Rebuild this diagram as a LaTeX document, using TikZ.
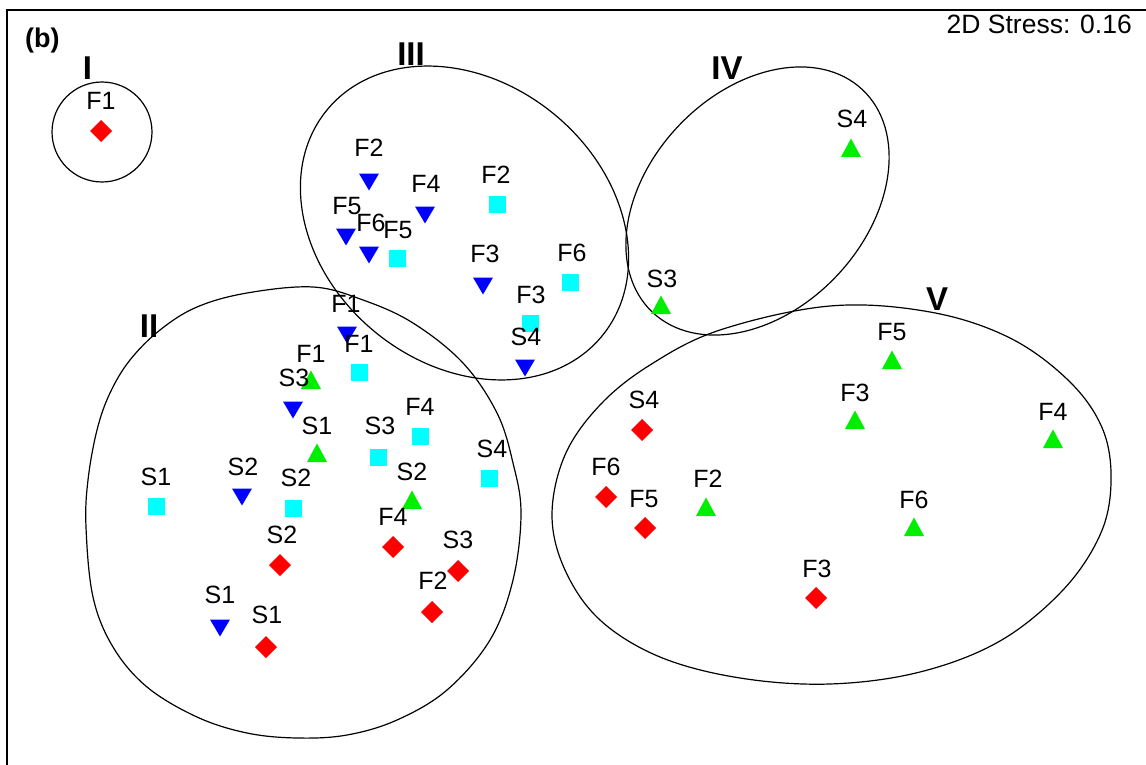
\documentclass[tikz,border=0pt]{standalone}
\usepackage{fontspec}
\setmainfont{Liberation Sans}
\definecolor{mred}{RGB}{255,0,0}
\definecolor{mblue}{RGB}{0,0,255}
\definecolor{mcyan}{RGB}{0,255,255}
\definecolor{mgreen}{RGB}{0,238,0}
\tikzset{
  lbl/.style={font=\fontsize{25}{25}\selectfont, inner sep=0pt, anchor=base},
  grp/.style={font=\fontsize{33}{33}\selectfont\bfseries, inner sep=0pt, anchor=base},
  hull/.style={draw=black, line width=1.2pt},
}
% markers: name, x, y
\newcommand\mkD[3]{\coordinate (#1) at (#2,#3); \fill[mred] (#1) +(0,-11) -- +(11,0) -- +(0,11) -- +(-11,0) -- cycle;}
\newcommand\mkV[3]{\coordinate (#1) at (#2,#3); \fill[mblue] (#1) +(-10,-8.5) -- +(10,-8.5) -- +(0,8.5) -- cycle;}
\newcommand\mkS[3]{\coordinate (#1) at (#2,#3); \fill[mcyan] (#1) +(-8.5,-8.5) rectangle +(8.5,8.5);}
\newcommand\mkA[3]{\coordinate (#1) at (#2,#3); \fill[mgreen] (#1) +(-10,9) -- +(10,9) -- +(0,-9.5) -- cycle;}
\newcommand\lab[4]{\node[lbl] (#1) at (#2,#3) {#4};}
\begin{document}
\begin{tikzpicture}[x=1pt,y=-1pt]
\useasboundingbox (0,0) rectangle (1146,765);
\fill[white] (0,0) rectangle (1146,765);
% frame
\draw[line width=1.6pt] (7,766) -- (7,10) -- (1147,10);
\node[font=\fontsize{27}{27}\selectfont\bfseries, inner sep=0pt, anchor=base west] (panel) at (25,48) {(b)};
\node[font=\fontsize{26.5}{26.5}\selectfont, inner sep=0pt, anchor=base east] (stress) at (1132,34) {2D Stress: 0.16};

% group hulls
\draw[hull] (102,132) circle [radius=50];
\draw[hull, rotate around={-39.4:(464.5,223)}] (464.5,223) ellipse [x radius=178, y radius=141];
\draw[hull, rotate around={46.6:(757.5,201)}] (757.5,201) ellipse [x radius=153, y radius=109];
\draw[hull] plot[smooth cycle, tension=0.6] coordinates {
 (313,287) (363,300) (413,323) (463,363) (497,413) (513,463) (521,513) (513,580) (490,640) (447,690) (397,720) (347,735) (297,738) (247,733) (197,717) (147,687) (113,647) (93,597) (86,527) (88,480) (97,430) (110,393) (130,360) (160,330) (197,307) (247,293)};
\draw[hull] plot[smooth cycle, tension=0.6] coordinates {
 (830,306) (930,312) (1010,338) (1070,382) (1103,430) (1111,483) (1100,535) (1063,590) (1000,641) (920,672) (830,684) (740,678) (660,657) (600,620) (565,570) (552,515) (565,455) (600,405) (650,365) (720,330)};

% group labels
\node[grp] (gI) at (87.5,80) {I};
\node[grp] (gII) at (149,337) {II};
\node[grp] (gIII) at (411,66) {III};
\node[grp] (gIV) at (727,80) {IV};
\node[grp] (gV) at (937,310) {V};

% red diamonds
\mkD{rF1}{101}{131}
\mkD{rF4}{393}{547}
\mkD{rS2}{280}{565}
\mkD{rS3}{458}{571}
\mkD{rF2}{432}{612}
\mkD{rS1}{266}{647}
\mkD{rS4}{642}{430}
\mkD{rF6}{606}{497}
\mkD{rF5}{645}{528}
\mkD{rF3}{816}{598}
% blue down triangles
\mkV{bF2}{369}{182}
\mkV{bF4}{425}{215}
\mkV{bF5}{346}{237}
\mkV{bF6}{369}{255}
\mkV{bF3}{483}{286}
\mkV{bS4}{525}{368}
\mkV{bF1}{347}{335}
\mkV{bS3}{293}{410}
\mkV{bS2}{242}{497}
\mkV{bS1}{220}{628}
% cyan squares
\mkS{cF2}{497}{204}
\mkS{cF5}{397}{258}
\mkS{cF6}{570}{282}
\mkS{cF3}{530}{323}
\mkS{cF1}{359}{372}
\mkS{cS3}{378}{457}
\mkS{cF4}{420}{436}
\mkS{cS4}{489}{478}
\mkS{cS1}{156}{506}
\mkS{cS2}{293}{508}
% green up triangles
\mkA{gF1}{311}{380}
\mkA{gS1}{317}{453}
\mkA{gS2}{412}{500}
\mkA{gS4}{851}{148}
\mkA{gS3}{661}{305}
\mkA{gF5}{892}{360}
\mkA{gF3}{855}{420}
\mkA{gF4}{1053}{439}
\mkA{gF6}{914}{527}
\mkA{gF2}{706}{507}

% labels
\lab{lrF1}{101}{110}{F1}
\lab{lrF4}{393}{525}{F4}
\lab{lrS2}{282}{543}{S2}
\lab{lrS3}{458}{548}{S3}
\lab{lrF2}{433}{589}{F2}
\lab{lrS1}{267}{623}{S1}
\lab{lrS4}{644}{408}{S4}
\lab{lrF6}{606}{475}{F6}
\lab{lrF5}{644}{507}{F5}
\lab{lrF3}{817}{577}{F3}

\lab{lbF2}{369}{157}{F2}
\lab{lbF4}{426}{192}{F4}
\lab{lbF5}{347}{214}{F5}
\lab{lbF6}{371}{231}{F6}
\lab{lbF3}{485}{262}{F3}
\lab{lbS4}{526}{345}{S4}
\lab{lbF1}{346}{312}{F1}
\lab{lbS3}{294}{386}{S3}
\lab{lbS2}{243}{475}{S2}
\lab{lbS1}{220}{603}{S1}

\lab{lcF2}{496}{183}{F2}
\lab{lcF5}{398}{238}{F5}
\lab{lcF6}{572}{261}{F6}
\lab{lcF3}{531}{303}{F3}
\lab{lcF1}{359}{352}{F1}
\lab{lcS3}{380}{434}{S3}
\lab{lcF4}{420}{415}{F4}
\lab{lcS4}{492}{457}{S4}
\lab{lcS1}{156}{485}{S1}
\lab{lcS2}{296}{486}{S2}

\lab{lgF1}{311}{362}{F1}
\lab{lgS1}{317}{434}{S1}
\lab{lgS2}{412}{480}{S2}
\lab{lgS4}{852}{128}{S4}
\lab{lgS3}{662}{287}{S3}
\lab{lgF5}{892}{340}{F5}
\lab{lgF3}{855}{401}{F3}
\lab{lgF4}{1053}{420}{F4}
\lab{lgF6}{914}{508}{F6}
\lab{lgF2}{708}{487}{F2}
\end{tikzpicture}
\end{document}
